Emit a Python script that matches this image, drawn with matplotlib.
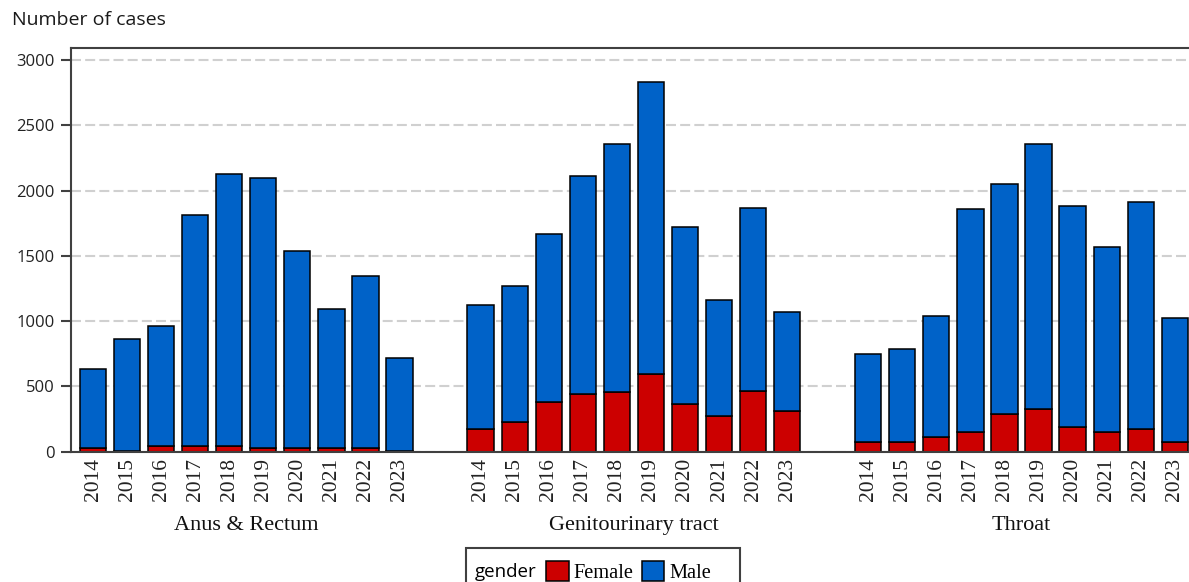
import numpy as np
import matplotlib
matplotlib.use('Agg')
import matplotlib.pyplot as plt
from matplotlib.patches import Patch
from matplotlib.offsetbox import HPacker, VPacker, DrawingArea

# data
years = ['2014', '2015', '2016', '2017', '2018', '2019', '2020', '2021', '2022', '2023']
sites = ['Anus & Rectum', 'Genitourinary tract', 'Throat']

female_anus = [25, 8, 40, 40, 40, 25, 25, 25, 25, 8]
male_anus = [605, 852, 920, 1770, 2090, 2075, 1515, 1065, 1320, 712]

female_genito = [175, 225, 380, 440, 455, 595, 365, 275, 465, 315]
male_genito = [945, 1045, 1290, 1675, 1905, 2235, 1355, 885, 1405, 753]

female_throat = [75, 75, 110, 150, 290, 330, 190, 150, 175, 75]
male_throat = [675, 710, 930, 1710, 1760, 2030, 1695, 1415, 1735, 950]

female = [female_anus, female_genito, female_throat]
male = [male_anus, male_genito, male_throat]

# colours / fonts
c_female = '#CC0000'
c_male = '#0062C8'
c_axis = '#404040'
sans = ['Open Sans', 'DejaVu Sans']
serif = ['Liberation Serif', 'DejaVu Serif']

fig = plt.figure(figsize=(11.89, 5.82), dpi=100)
ax = fig.add_axes([70.7/1189, 1-451.7/582, (1189-70.7)/1189, (451.7-48)/582])

group_step = 11.38
bar_w = 0.77
xpos = []
xlab = []
for g in range(len(sites)):
    x = g*group_step + np.arange(len(years))
    ax.bar(x, female[g], width=bar_w, color=c_female, edgecolor='black', linewidth=1.1, zorder=2)
    ax.bar(x, male[g], bottom=female[g], width=bar_w, color=c_male, edgecolor='black', linewidth=1.1, zorder=2)
    xpos.extend(x)
    xlab.extend(years)
    ax.annotate(sites[g], xy=(x.mean(), 0), xycoords=('data', 'axes fraction'),
                xytext=(0, -46), textcoords='offset points', ha='center', va='top',
                fontsize=16, family=serif, color='#111111')

ax.set_xlim(-0.655, (1189-93)/34.06)
ax.set_ylim(0, 3092)
ax.set_yticks(np.arange(0, 3001, 500))
ax.set_xticks(xpos)
ax.set_xticklabels(xlab, rotation=90, fontsize=15.5, family=serif, color='#222222')
ax.tick_params(axis='x', length=0, pad=4.5)
ax.tick_params(axis='y', length=7.5, width=1.5, color=c_axis, pad=4, labelsize=12, labelcolor='#222222')
for lab in ax.get_yticklabels():
    lab.set_family(sans)

ax.yaxis.grid(True, linestyle=(0, (4.8, 2.0)), color='#d0d0d0', linewidth=1.5)
ax.set_axisbelow(True)
for s in ['left', 'bottom', 'top']:
    ax.spines[s].set_color(c_axis)
    ax.spines[s].set_linewidth(1.5)
ax.spines['right'].set_visible(False)

fig.text(12/1189, 1-11/582, 'Number of cases', ha='left', va='top', fontsize=14, family=sans, color='#1a1a1a')

# legend with the title inline, to the left of the entries
handles = [Patch(facecolor=c_female, edgecolor='black', linewidth=1.1),
           Patch(facecolor=c_male, edgecolor='black', linewidth=1.1)]
leg = fig.legend(handles, ['Female', 'Male'], title='gender', ncol=2,
                 title_fontproperties={'family': sans, 'size': 13.5},
                 prop={'family': serif, 'size': 14.7},
                 loc='upper left', bbox_to_anchor=(465.7/1189, 1-548/582), borderaxespad=0,
                 handlelength=1.1, handleheight=1.1, handletextpad=0.25, columnspacing=0.4,
                 borderpad=0.45, fancybox=False, edgecolor=c_axis, framealpha=1)
leg.get_frame().set_linewidth(1.5)
fs = leg._fontsize
row = HPacker(pad=0, sep=7, align='center',
              children=[leg._legend_title_box, leg._legend_handle_box, DrawingArea(7, 1)])
leg._legend_box = VPacker(pad=leg.borderpad*fs, sep=0, align='left',
                          children=[DrawingArea(1, 3), row])
leg._legend_box.set_figure(fig)
leg._legend_box.set_offset(leg._findoffset)

fig.savefig('out.png', dpi=100)
